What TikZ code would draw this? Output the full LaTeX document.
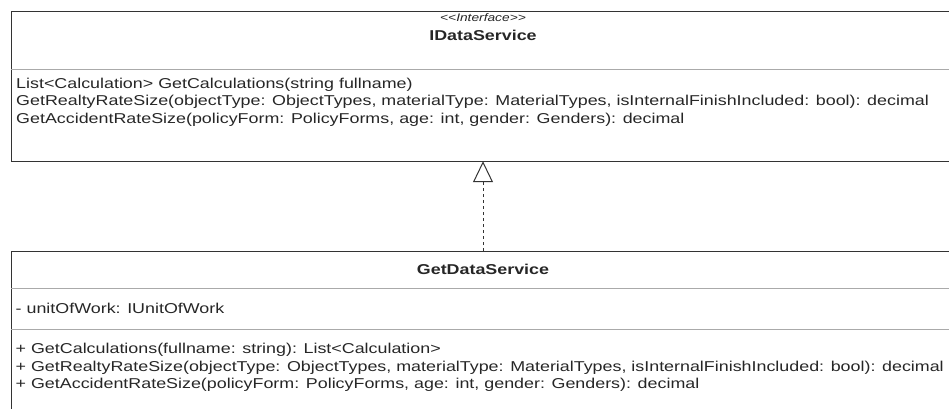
\documentclass[tikz,border=0pt]{standalone}
\usepackage{fontspec}
\setmainfont{Liberation Sans}[FakeStretch=1.25]
\usetikzlibrary{arrows.meta}
\definecolor{umlline}{HTML}{333333}
\definecolor{umlsep}{HTML}{AAAAAA}
\definecolor{umltext}{HTML}{262626}
\begin{document}
\begin{tikzpicture}[x=1pt,y=-1pt,
  classbox/.style={draw=umlline,line width=1.4pt,anchor=north west,inner sep=0pt,
    minimum width=944pt},
  sepline/.style={draw=umlsep,line width=1pt},
  member/.style={anchor=base west,inner sep=0pt,text=umltext,font=\fontsize{14.3}{17}\selectfont},
  classname/.style={anchor=base,inner sep=0pt,text=umltext,font=\fontsize{14.3}{17}\selectfont\bfseries},
  stereo/.style={anchor=base,inner sep=0pt,text=umltext,font=\fontsize{11}{13}\selectfont\itshape},
  realize/.style={draw=umlline,line width=1pt,dash pattern=on 3pt off 3pt,
    -{Triangle[open,length=21pt,width=20pt,line width=1pt]}}]
\useasboundingbox (0,0) rectangle (949,408);
\clip (0,0) rectangle (949,408);

% interface IDataService
\node[classbox,minimum height=150.5pt] (iface) at (11,10.5) {};
\draw[sepline] (11,69) -- (955,69);
\node[stereo] (ifstereo) at (483,21.5) {{<}{<}Interface{>}{>}};
\node[classname] (ifname) at (483,40.5) {IDataService};
\node[member] (if1) at (16,88) {List<Calculation> GetCalculations(string fullname)};
\node[member] (if2) at (16,105.5) {GetRealtyRateSize(objectType: ObjectTypes, materialType: MaterialTypes, isInternalFinishIncluded: bool): decimal};
\node[member] (if3) at (16,123) {GetAccidentRateSize(policyForm: PolicyForms, age: int, gender: Genders): decimal};

% class GetDataService
\node[classbox,minimum height=180pt] (impl) at (11,251) {};
\draw[sepline] (11,288) -- (955,288);
\draw[sepline] (11,329) -- (955,329);
\node[classname] (implname) at (483,274) {GetDataService};
\node[member] (attr1) at (15.5,313) {- unitOfWork: IUnitOfWork};
\node[member] (op1) at (15.5,353.5) {+ GetCalculations(fullname: string): List<Calculation>};
\node[member] (op2) at (15.5,371) {+ GetRealtyRateSize(objectType: ObjectTypes, materialType: MaterialTypes, isInternalFinishIncluded: bool): decimal};
\node[member] (op3) at (15.5,388.5) {+ GetAccidentRateSize(policyForm: PolicyForms, age: int, gender: Genders): decimal};

% realization
\coordinate (implTop) at (483,251);
\coordinate (ifaceBottom) at (483,161.2);
\draw[realize] (implTop) -- (ifaceBottom);
\end{tikzpicture}
\end{document}
